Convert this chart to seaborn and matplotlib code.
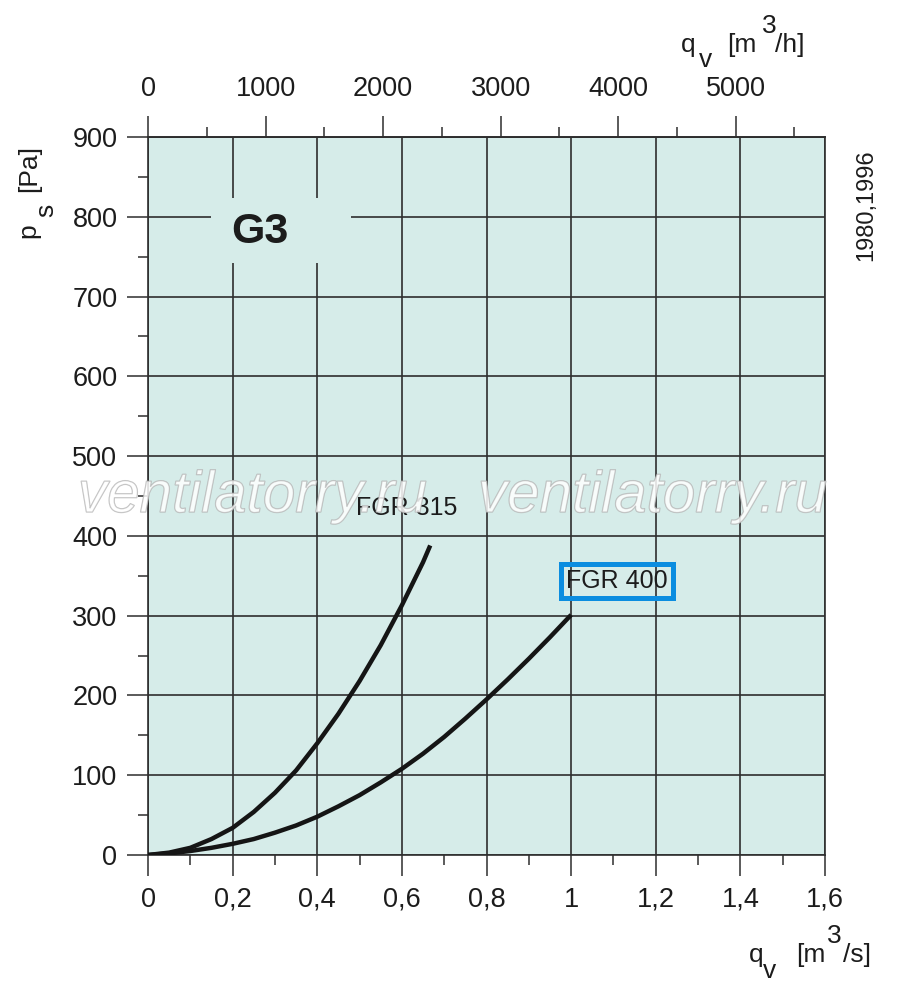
import numpy as np
import pandas as pd
import matplotlib
matplotlib.use("Agg")
import matplotlib.pyplot as plt
import matplotlib.patheffects as pe
from matplotlib.patches import Rectangle
import seaborn as sns

# values
fgr315_q = [0, 0.05, 0.1, 0.15, 0.2, 0.25, 0.3, 0.35, 0.4, 0.45, 0.5, 0.55, 0.6, 0.625, 0.65, 0.667]
fgr315_p = [0, 3, 9, 20, 34, 54, 78, 106, 140, 177, 218, 263, 313, 340, 367, 388]
fgr400_q = [0, 0.05, 0.1, 0.15, 0.2, 0.25, 0.3, 0.35, 0.4, 0.45, 0.5, 0.55, 0.6,
            0.65, 0.7, 0.75, 0.8, 0.85, 0.9, 0.95, 1.0]
fgr400_p = [0, 2, 5, 9, 14, 20, 28, 37, 48, 61, 75, 91, 108,
            127, 148, 171, 195, 220, 246, 273, 301]

x_ticks = [0, 0.2, 0.4, 0.6, 0.8, 1.0, 1.2, 1.4, 1.6]
x_labels = ["0", "0,2", "0,4", "0,6", "0,8", "1", "1,2", "1,4", "1,6"]
y_ticks = [0, 100, 200, 300, 400, 500, 600, 700, 800, 900]
top_ticks = [0, 1000, 2000, 3000, 4000, 5000]

BG = "#d6ece9"
GRID = "#2e2e2e"
INK = "#1c1c1c"

df = pd.concat([
    pd.DataFrame({"q": fgr315_q, "p": fgr315_p, "fan": "FGR 315"}),
    pd.DataFrame({"q": fgr400_q, "p": fgr400_p, "fan": "FGR 400"}),
])

sns.set_theme(style="ticks")
plt.rcParams["font.family"] = ["Liberation Sans", "DejaVu Sans"]

fig = plt.figure(figsize=(9, 9.82), dpi=100)
ax = fig.add_axes([148 / 900, 1 - 855 / 982, 677 / 900, 718 / 982])
ax.set_facecolor(BG)

sns.lineplot(data=df, x="q", y="p", units="fan", estimator=None, sort=False,
             color="#151515", linewidth=3.2, ax=ax, zorder=4, legend=False)
for ln in ax.lines:
    ln.set_solid_capstyle("butt")
    ln.set_solid_joinstyle("round")

ax.set_xlim(0, 1.6)
ax.set_ylim(0, 900)
ax.set_xticks(x_ticks)
ax.set_xticklabels(x_labels)
ax.set_xticks(np.arange(0.1, 1.6, 0.2), minor=True)
ax.set_yticks(y_ticks)
ax.set_yticks(np.arange(50, 900, 100), minor=True)
ax.set_xlabel("")
ax.set_ylabel("")
ax.set_axisbelow(True)
ax.grid(True, which="major", color=GRID, linewidth=1.2)

for s in ax.spines.values():
    s.set_color(GRID)
    s.set_linewidth(1.2)
    s.set_visible(True)

ax.tick_params(which="major", direction="out", length=15, width=1.1, color=GRID,
               labelsize=19.5, labelcolor=INK)
ax.tick_params(which="minor", direction="out", length=7.5, width=1.1, color=GRID)
ax.tick_params(axis="x", which="major", pad=8)
ax.tick_params(axis="y", which="major", pad=7)

top = ax.secondary_xaxis("top", functions=(lambda q: q * 3600, lambda h: h / 3600))
top.set_xticks(top_ticks)
top.set_xticklabels([str(t) for t in top_ticks])
top.set_xticks(np.arange(500, 5600, 1000), minor=True)
top.tick_params(which="major", direction="out", length=15, width=1.1, color=GRID,
                labelsize=19.5, labelcolor=INK, pad=10)
top.tick_params(which="minor", direction="out", length=7.5, width=1.1, color=GRID)
top.spines["top"].set_color(GRID)
top.spines["top"].set_linewidth(1.2)

# gap in the grid behind the G3 mark
ax.add_patch(Rectangle((0.149, 742), 0.331, 81, facecolor=BG, edgecolor="none", zorder=2))
ax.text(0.265, 781, "G3", fontsize=31, fontweight="bold", color=INK,
        ha="center", va="center", zorder=3)

# watermark (outlined, see-through)
for x0, y0 in [(78, 512), (478, 512)]:
    fig.text(x0 / 900, 1 - y0 / 982, "ventilatorry.ru", fontsize=42, style="italic",
             color="white", alpha=0.25, ha="left", va="baseline", zorder=5,
             path_effects=[pe.Stroke(linewidth=0.9, foreground="#b0b0b0", alpha=0.8),
                           pe.Normal()])

ax.text(0.612, 435, "FGR 315", fontsize=18, color=INK,
        ha="center", va="center", zorder=6)
ax.text(0.988, 343, "FGR 400", fontsize=18, color=INK, ha="left", va="center",
        zorder=6, bbox=dict(boxstyle="square,pad=0.2", facecolor="none",
                            edgecolor="#0b8de0", linewidth=3.6))


def put(parts, size=19, rot=0):
    for txt, x, y in parts:
        fig.text(x / 900, 1 - y / 982, txt, fontsize=size, color=INK,
                 ha="left", va="baseline", rotation=rot, rotation_mode="anchor")


put([("q", 681, 52), ("v", 699, 67), ("[m", 727, 52), ("3", 762, 33), ("/h]", 775, 52)])
put([("q", 749, 962), ("v", 763, 978), ("[m", 796, 962), ("3", 827, 943), ("/s]", 843, 962)])
put([("p", 35, 238), ("s", 53, 217), ("[Pa]", 36, 192)], rot=90)

fig.text(866 / 900, 1 - 205 / 982, "1980,1996", fontsize=17, color=INK,
         rotation=90, ha="center", va="center")

fig.savefig("out.png", dpi=100, facecolor="white")
